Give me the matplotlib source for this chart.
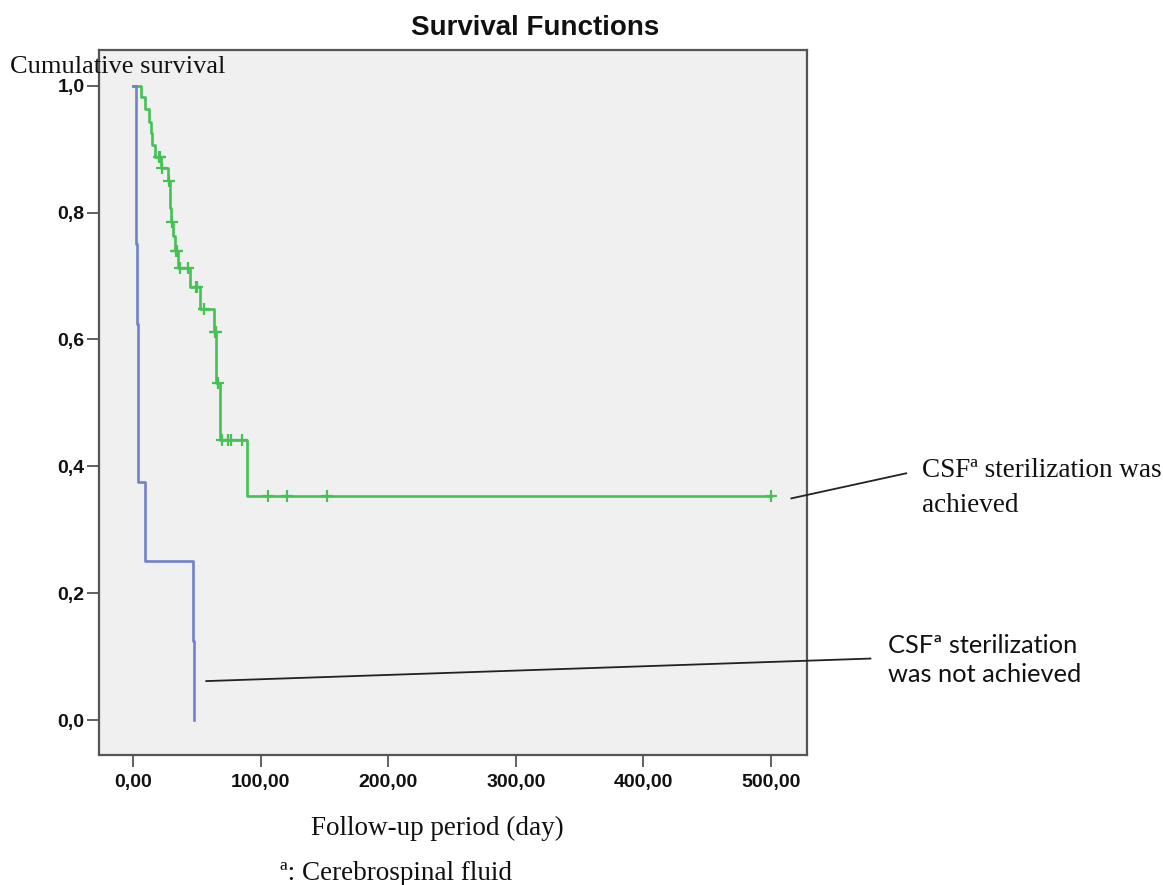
import matplotlib
matplotlib.use("Agg")
import matplotlib.pyplot as plt

# ---------------- data ----------------
# Group: CSF sterilization achieved (green) - step function (time, survival after step)
ach_time = [0, 5.8, 9.2, 12.5, 13.5, 14.4, 17.0, 21.7, 27.5, 28.5, 29.0, 29.5, 31.0,
            33.0, 35.0, 44.5, 52.3, 63.5, 65.0, 68.0, 88.9, 500.0]
ach_surv = [1.0, 0.982, 0.964, 0.943, 0.925, 0.906, 0.888, 0.870, 0.849, 0.829, 0.807,
            0.785, 0.763, 0.740, 0.712, 0.683, 0.6475, 0.612, 0.531, 0.441, 0.353, 0.353]
# censored observations (time, survival level)
ach_cens_t = [20.0, 21.0, 22.5, 28.0, 30.0, 33.5, 34.2, 36.5, 42.5, 49.3, 50.0, 55.2,
              64.0, 64.5, 66.0, 69.3, 74.0, 76.2, 85.0, 105.4, 120.3, 152.2, 500.0]
ach_cens_s = [0.888, 0.888, 0.870, 0.849, 0.785, 0.740, 0.740, 0.712, 0.712, 0.683, 0.683,
              0.6475, 0.612, 0.612, 0.531, 0.441, 0.441, 0.441, 0.441, 0.353, 0.353, 0.353, 0.353]

# Group: CSF sterilization not achieved (blue)
not_time = [0, 2.0, 2.9, 3.5, 9.2, 47.0, 47.6]
not_surv = [1.0, 0.75, 0.625, 0.375, 0.25, 0.125, 0.0]

x_ticks = [0, 100, 200, 300, 400, 500]
x_tick_labels = ["0,00", "100,00", "200,00", "300,00", "400,00", "500,00"]
y_ticks = [0.0, 0.2, 0.4, 0.6, 0.8, 1.0]
y_tick_labels = ["0,0", "0,2", "0,4", "0,6", "0,8", "1,0"]

title = "Survival Functions"
ylabel = "Cumulative survival"
xlabel = "Follow-up period (day)"
footnote = "ª: Cerebrospinal fluid"
label_ach = ["CSFª sterilization was", "achieved"]
label_not = ["CSFª sterilization", "was not achieved"]

# ---------------- figure ----------------
W, H = 1163, 885
fig = plt.figure(figsize=(W / 100, H / 100), dpi=100)
fig.patch.set_facecolor("white")

def fx(px):
    return px / W

def fy(py):
    return 1 - py / H

ax = fig.add_axes([fx(99.3), fy(755), fx(806.7) - fx(99.3), fy(49.5) - fy(755)])
ax.set_facecolor("#f0f0f0")
ax.set_xlim(-26.7, 528)
ax.set_ylim(-0.055, 1.057)

green = "#45c155"
blue = "#6f82cc"

ax.step(ach_time, ach_surv, where="post", color=green, lw=1.9, zorder=3)
ax.plot(ach_cens_t, ach_cens_s, linestyle="none", marker="+", markersize=8.5,
        markeredgewidth=1.6, color=green, zorder=4)
ax.step(not_time, not_surv, where="post", color=blue, lw=1.9, zorder=3)

for s in ax.spines.values():
    s.set_color("#555555")
    s.set_linewidth(1.6)

ax.set_xticks(x_ticks)
ax.set_xticklabels(x_tick_labels)
ax.set_yticks(y_ticks)
ax.set_yticklabels(y_tick_labels)
ax.tick_params(axis="both", direction="out", length=8.5, width=1.3, color="#555555")
ax.tick_params(axis="x", pad=5.5)
ax.tick_params(axis="y", pad=2)
for lab in ax.get_xticklabels() + ax.get_yticklabels():
    lab.set_fontfamily("Liberation Sans")
    lab.set_fontweight("bold")
    lab.set_fontsize(14)
    lab.set_color("#111111")

# annotation lines
ax.plot([516, 606], [0.3495, 0.389], color="#222222", lw=1.3, clip_on=False, zorder=5)
ax.plot([57.2, 578], [0.0615, 0.097], color="#222222", lw=1.3, clip_on=False, zorder=5)

serif = ["Liberation Serif", "DejaVu Serif"]
fig.text(fx(535), fy(35), title, ha="center", va="baseline", fontsize=20,
         fontweight="bold", family="Liberation Sans", color="#111111")
fig.text(fx(10), fy(73.3), ylabel, ha="left", va="baseline", fontsize=19,
         family=serif, color="#111111")
fig.text(fx(437), fy(835), xlabel, ha="center", va="baseline", fontsize=19.5,
         family=serif, color="#111111")
fig.text(fx(280), fy(880), footnote, ha="left", va="baseline", fontsize=19.5,
         family=serif, color="#111111")
for line, base in zip(label_ach, [476.7, 511.7]):
    fig.text(fx(921.7), fy(base), line, ha="left", va="baseline", fontsize=19.5,
             family=serif, color="#111111")
for line, base in zip(label_not, [653.3, 681.7]):
    fig.text(fx(888.3), fy(base), line, ha="left", va="baseline", fontsize=18.3,
             family=["Lato", "DejaVu Sans"], color="#111111")

fig.savefig("out.png", dpi=100, facecolor="white")
